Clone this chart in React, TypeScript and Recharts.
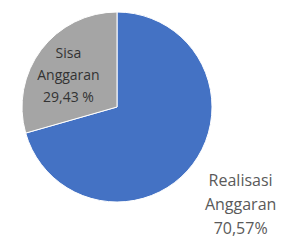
import { PieChart, Pie, Cell } from "recharts";

const categories = ["Realisasi Anggaran", "Sisa Anggaran"];
const values = [70.57, 29.43];
const valueLabels = ["70,57%", "29,43 %"];
const colors = ["#4472C4", "#A5A5A5"];

const data = categories.map((name, i) => ({ name, value: values[i] }));

const RAD = Math.PI / 180;

interface LabelProps {
  cx: number;
  cy: number;
  midAngle: number;
  outerRadius: number;
  index: number;
}

function SliceLabel({ cx, cy, midAngle, outerRadius, index }: LabelProps) {
  const inside = index === 1;
  const r = outerRadius * (inside ? 0.64 : 1.63);
  const x = cx + r * Math.cos(-midAngle * RAD);
  const y = cy + r * Math.sin(-midAngle * RAD) + 4;
  const words = categories[index].split(" ");
  const lines = [...words, valueLabels[index]];
  const fs = inside ? 14 : 16;
  const lh = inside ? 22 : 24;
  const top = y - ((lines.length - 1) * lh) / 2;
  return (
    <text
      x={x}
      y={top}
      textAnchor="middle"
      dominantBaseline="central"
      fill={inside ? "#333333" : "#5a5a5a"}
      style={{ fontFamily: "'Open Sans', sans-serif", fontSize: fs }}
    >
      {lines.map((l, i) => (
        <tspan key={i} x={x} y={top + i * lh}>
          {l}
        </tspan>
      ))}
    </text>
  );
}

export default function App() {
  return (
    <div style={{ width: 284, height: 240, background: "#fff" }}>
      <style>{"body{margin:0}"}</style>
      <PieChart width={284} height={240} margin={{ top: 0, right: 0, bottom: 0, left: 0 }}>
        <Pie
          data={data}
          dataKey="value"
          nameKey="name"
          cx={117}
          cy={107}
          outerRadius={95}
          startAngle={90}
          endAngle={-270}
          stroke="#ffffff"
          strokeWidth={1}
          labelLine={false}
          label={SliceLabel as any}
          isAnimationActive={false}
        >
          {data.map((d, i) => (
            <Cell key={d.name} fill={colors[i]} />
          ))}
        </Pie>
      </PieChart>
    </div>
  );
}
